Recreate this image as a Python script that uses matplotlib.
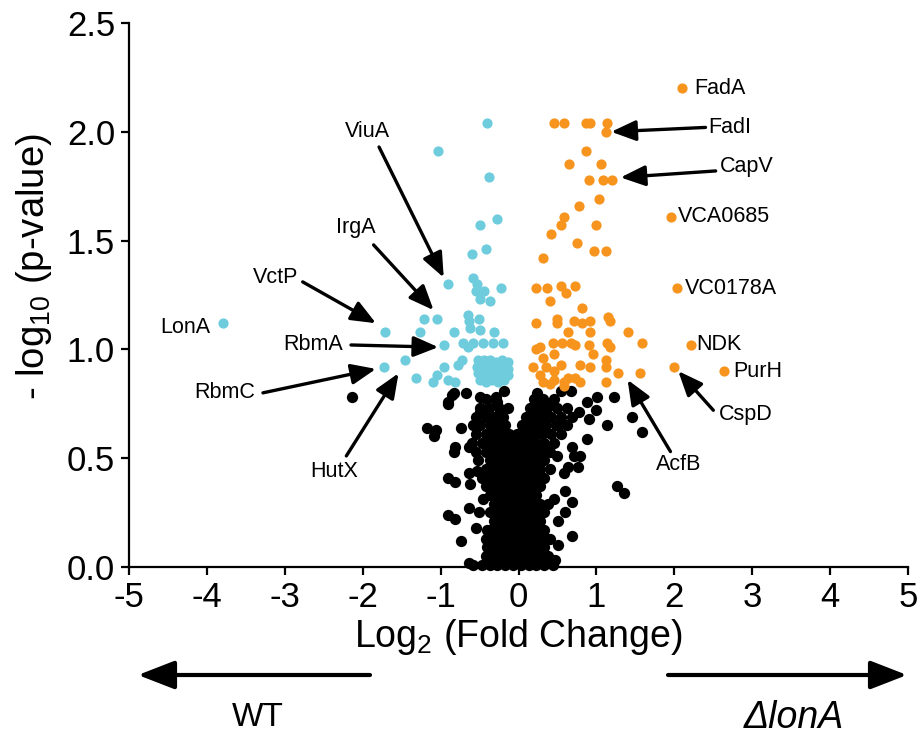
import matplotlib
matplotlib.use("Agg")
import matplotlib.pyplot as plt

plt.rcParams['font.family'] = ['Liberation Sans', 'DejaVu Sans']
plt.rcParams['mathtext.fontset'] = 'custom'
plt.rcParams['mathtext.rm'] = 'Liberation Sans'
plt.rcParams['mathtext.it'] = 'Liberation Sans:italic'
plt.rcParams['axes.unicode_minus'] = False

CYAN = '#6ECCDD'
ORANGE = '#F7941E'

# proteins enriched in WT (log2 FC, -log10 p)
wt_hits = [
    (-0.40, 2.04), (-1.03, 1.91), (-0.38, 1.79), (-0.28, 1.60), (-0.50, 1.57),
    (-0.42, 1.46), (-0.60, 1.44), (-0.90, 1.30), (-0.58, 1.33), (-0.53, 1.30),
    (-0.44, 1.27), (-0.22, 1.28), (-0.50, 1.23), (-0.36, 1.22), (-0.55, 1.27),
    (-1.21, 1.14), (-1.04, 1.14), (-1.72, 1.08), (-1.26, 1.08), (-0.83, 1.08),
    (-0.65, 1.16), (-0.64, 1.13), (-0.62, 1.10), (-0.51, 1.14), (-0.49, 1.09),
    (-0.32, 1.08), (-0.20, 1.03), (-0.33, 1.03), (-0.46, 1.03), (-0.59, 1.03),
    (-0.71, 1.03), (-0.65, 1.01), (-0.96, 1.02), (-1.46, 0.95), (-1.73, 0.92),
    (-1.31, 0.87), (-1.10, 0.85), (-1.04, 0.88), (-0.96, 0.92), (-0.78, 0.93),
    (-0.72, 0.95), (-0.90, 0.86), (-0.81, 0.85), (-3.79, 1.12),
    (-0.52, 0.95), (-0.44, 0.95), (-0.37, 0.95), (-0.29, 0.94), (-0.21, 0.95),
    (-0.14, 0.94), (-0.53, 0.92), (-0.45, 0.91), (-0.37, 0.92), (-0.29, 0.91),
    (-0.21, 0.92), (-0.14, 0.91), (-0.52, 0.89), (-0.44, 0.88), (-0.36, 0.89),
    (-0.28, 0.88), (-0.20, 0.89), (-0.14, 0.88), (-0.50, 0.86), (-0.42, 0.85),
    (-0.34, 0.86), (-0.26, 0.85), (-0.18, 0.86),
]

# proteins enriched in the lonA mutant
mut_hits = [
    (2.10, 2.20), (0.45, 2.04), (0.59, 2.04), (0.86, 2.04), (0.92, 2.04),
    (1.14, 2.04), (1.12, 2.00), (0.87, 1.91), (0.65, 1.85), (1.06, 1.85),
    (0.90, 1.78), (1.08, 1.78), (1.20, 1.78), (1.03, 1.69), (0.78, 1.66),
    (0.58, 1.61), (0.55, 1.57), (1.00, 1.57), (1.96, 1.61), (0.42, 1.53),
    (0.75, 1.49), (0.97, 1.45), (1.12, 1.45), (0.31, 1.42), (2.03, 1.28),
    (0.22, 1.28), (0.37, 1.28), (0.54, 1.29), (0.61, 1.26), (0.73, 1.29),
    (0.40, 1.22), (0.81, 1.19), (0.22, 1.12), (0.50, 1.14), (0.50, 1.12),
    (0.71, 1.13), (0.81, 1.12), (0.92, 1.13), (1.15, 1.15), (1.18, 1.13),
    (0.63, 1.08), (0.92, 1.08), (1.41, 1.08), (2.21, 1.02), (1.59, 1.03),
    (0.22, 1.00), (0.27, 1.01), (0.44, 1.03), (0.56, 1.03), (0.67, 1.03),
    (0.73, 1.02), (0.91, 1.02), (1.14, 1.03), (1.18, 1.01), (0.45, 0.98),
    (0.95, 0.98), (0.32, 0.96), (1.12, 0.95), (0.19, 0.92), (0.35, 0.92),
    (0.54, 0.93), (0.79, 0.93), (0.92, 0.92), (1.12, 0.92), (0.45, 0.90),
    (2.00, 0.92), (0.64, 0.87), (0.28, 0.88), (0.32, 0.85), (0.45, 0.86),
    (0.58, 0.85), (0.79, 0.85), (1.28, 0.89), (1.56, 0.89), (1.12, 0.85),
    (2.64, 0.90), (0.59, 0.83), (0.40, 0.84), (0.72, 0.87),
]

# background proteins, dense core given row by row: (-log10 p, [log2 FC, ...])
core_rows = [
    (0.01, [-0.58, -0.47, -0.37, -0.27, -0.17, -0.07, 0.03, 0.13, 0.23, 0.33, 0.44]),
    (0.05, [-0.42, -0.32, -0.22, -0.12, -0.02, 0.08, 0.18, 0.28, 0.38]),
    (0.09, [-0.37, -0.27, -0.17, -0.07, 0.03, 0.13, 0.23, 0.33]),
    (0.13, [-0.42, -0.32, -0.22, -0.12, -0.02, 0.08, 0.18, 0.28, 0.36]),
    (0.17, [-0.37, -0.27, -0.17, -0.07, 0.03, 0.13, 0.23, 0.33]),
    (0.21, [-0.32, -0.22, -0.12, -0.02, 0.08, 0.18, 0.28]),
    (0.25, [-0.37, -0.27, -0.17, -0.07, 0.03, 0.13, 0.23, 0.33]),
    (0.29, [-0.32, -0.22, -0.12, -0.02, 0.08, 0.18, 0.28, 0.38]),
    (0.33, [-0.37, -0.27, -0.17, -0.07, 0.03, 0.13, 0.23]),
    (0.37, [-0.42, -0.32, -0.22, -0.12, -0.02, 0.08, 0.18, 0.28]),
    (0.41, [-0.47, -0.37, -0.27, -0.17, -0.07, 0.03, 0.13, 0.23, 0.33]),
    (0.45, [-0.42, -0.32, -0.22, -0.12, -0.02, 0.08, 0.18, 0.28, 0.40]),
    (0.49, [-0.52, -0.37, -0.27, -0.17, -0.07, 0.03, 0.13, 0.23, 0.33]),
    (0.53, [-0.55, -0.42, -0.32, -0.22, -0.12, -0.02, 0.08, 0.18, 0.28, 0.40]),
    (0.57, [-0.60, -0.47, -0.37, -0.27, -0.17, -0.07, 0.03, 0.13, 0.23, 0.33, 0.45]),
    (0.61, [-0.55, -0.42, -0.32, -0.22, -0.12, -0.02, 0.10, 0.20, 0.30, 0.42, 0.55]),
    (0.65, [-0.50, -0.37, -0.27, -0.17, 0.05, 0.15, 0.25, 0.35, 0.48, 0.62]),
    (0.69, [-0.55, -0.42, -0.32, -0.20, 0.10, 0.20, 0.30, 0.42, 0.55]),
    (0.73, [-0.50, -0.38, -0.25, 0.15, 0.25, 0.37, 0.50, 0.62]),
    (0.77, [-0.42, -0.30, 0.20, 0.32, 0.45]),
]

# background proteins scattered around the core
loose = [
    (-0.83, 0.80), (-0.68, 0.80), (-0.90, 0.75), (-0.49, 0.78), (-0.29, 0.78),
    (-0.19, 0.81), (0.24, 0.80), (0.54, 0.81), (0.67, 0.81), (0.88, 0.76),
    (1.01, 0.78), (1.22, 0.78), (0.77, 0.71), (0.99, 0.72), (0.90, 0.68),
    (1.14, 0.65), (1.46, 0.69), (1.59, 0.62), (0.88, 0.59), (-1.17, 0.64),
    (-1.06, 0.63), (-1.09, 0.60), (-0.83, 0.53), (-0.81, 0.55), (-0.64, 0.55),
    (-0.91, 0.41), (-0.81, 0.39), (-0.64, 0.43), (-0.53, 0.44), (-0.62, 0.38),
    (-0.91, 0.24), (-0.81, 0.22), (-0.64, 0.27), (-0.55, 0.18), (-0.74, 0.12),
    (-0.40, 0.17), (-0.40, 0.09), (-0.64, 0.02), (-0.74, 0.64), (-0.58, 0.65),
    (-0.49, 0.71), (-0.27, 0.76), (-0.13, 0.73), (-0.85, 0.79), (-0.91, 0.76),
    (0.69, 0.55), (0.79, 0.51), (0.76, 0.46), (0.58, 0.43), (0.50, 0.51),
    (1.27, 0.37), (1.36, 0.34), (0.60, 0.35), (0.68, 0.30), (0.60, 0.25),
    (0.51, 0.21), (0.69, 0.14), (0.41, 0.13), (0.51, 0.10), (0.47, 0.03),
    (-2.14, 0.78), (0.71, 0.51), (0.63, 0.46), (0.35, 0.54), (0.56, 0.66),
    (0.69, 0.69), (0.38, 0.74), (0.45, 0.31), (0.26, 0.23), (-0.45, 0.31),
    (-0.51, 0.25), (-0.36, 0.03), (0.35, 0.02),
]

# labelled proteins: name, text position, alignment, arrow tail, arrow head
labels = [
    ('ViuA', (-1.94, 2.00), 'center', (-1.79, 1.93), (-0.96, 1.33)),
    ('IrgA', (-2.09, 1.56), 'center', (-1.86, 1.48), (-1.09, 1.18)),
    ('VctP', (-3.12, 1.33), 'center', (-2.77, 1.31), (-1.83, 1.12)),
    ('RbmA', (-2.64, 1.02), 'center', (-2.15, 1.02), (-1.03, 1.01)),
    ('LonA', (-4.28, 1.10), 'center', None, None),
    ('RbmC', (-3.77, 0.80), 'center', (-3.28, 0.80), (-1.83, 0.91)),
    ('HutX', (-2.36, 0.44), 'center', (-2.21, 0.51), (-1.54, 0.89)),
    ('FadA', (2.25, 2.20), 'left', None, None),
    ('FadI', (2.43, 2.02), 'left', (2.40, 2.02), (1.19, 2.00)),
    ('CapV', (2.59, 1.84), 'left', (2.53, 1.82), (1.31, 1.79)),
    ('VCA0685', (2.04, 1.61), 'left', None, None),
    ('VC0178A', (2.14, 1.28), 'left', None, None),
    ('NDK', (2.28, 1.02), 'left', None, None),
    ('PurH', (2.76, 0.90), 'left', None, None),
    ('CspD', (2.91, 0.70), 'center', (2.50, 0.72), (2.05, 0.90)),
    ('AcfB', (2.05, 0.47), 'center', (1.95, 0.53), (1.40, 0.86)),
]

bg_x = [x for y, xs in core_rows for x in xs] + [p[0] for p in loose]
bg_y = [y for y, xs in core_rows for x in xs] + [p[1] for p in loose]

fig = plt.figure(figsize=(9.21, 7.42), dpi=100)
ax = fig.add_axes([0.140, 0.236, 0.846, 0.733])

ax.scatter(bg_x, bg_y, s=66, c='black', linewidths=0, clip_on=False, zorder=2)
ax.scatter([p[0] for p in wt_hits], [p[1] for p in wt_hits], s=54, c=CYAN,
           linewidths=0, zorder=3)
ax.scatter([p[0] for p in mut_hits], [p[1] for p in mut_hits], s=54, c=ORANGE,
           linewidths=0, zorder=3)

for name, pos, ha, tail, head in labels:
    ax.text(pos[0], pos[1], name, fontsize=15.5, ha=ha, va='center', zorder=5)
    if tail is not None:
        ax.annotate('', xy=head, xytext=tail,
                    arrowprops=dict(arrowstyle='-|>,head_length=0.6,head_width=0.25',
                                    mutation_scale=25, lw=2.4, color='black',
                                    shrinkA=0, shrinkB=0), zorder=5)

ax.set_xlim(-5, 5)
ax.set_ylim(0, 2.5)
ax.set_xticks(range(-5, 6))
ax.set_yticks([0.0, 0.5, 1.0, 1.5, 2.0, 2.5])
ax.set_yticklabels(['0.0', '0.5', '1.0', '1.5', '2.0', '2.5'])
for side in ['top', 'right']:
    ax.spines[side].set_visible(False)
for side in ['left', 'bottom']:
    ax.spines[side].set_linewidth(1.6)
ax.tick_params(axis='both', direction='out', length=6, width=1.6, labelsize=25)
ax.tick_params(axis='y', pad=4)
ax.tick_params(axis='x', pad=4)

ax.set_xlabel(r'Log$_{\mathregular{2}}$ (Fold Change)', fontsize=27, labelpad=2)
ax.set_ylabel(r'- log$_{\mathregular{10}}$ (p-value)', fontsize=27.5, labelpad=9,
              y=0.553)

# direction arrows below the axis
arrow_kw = dict(arrowstyle='-|>,head_length=0.9,head_width=0.35',
                mutation_scale=25, lw=3, color='black', shrinkA=0, shrinkB=0)
ax.annotate('', xy=(138, 67), xytext=(370, 67), xycoords='figure pixels',
            textcoords='figure pixels', arrowprops=arrow_kw, annotation_clip=False)
ax.annotate('', xy=(907, 67), xytext=(668, 67), xycoords='figure pixels',
            textcoords='figure pixels', arrowprops=arrow_kw, annotation_clip=False)
fig.text(258 / 921, 24 / 742, 'WT', fontsize=24, ha='center', va='center')
fig.text(794 / 921, 24 / 742, '\u0394lonA', fontsize=27, ha='center',
         va='center', style='italic')

fig.savefig('out.png', dpi=100)
